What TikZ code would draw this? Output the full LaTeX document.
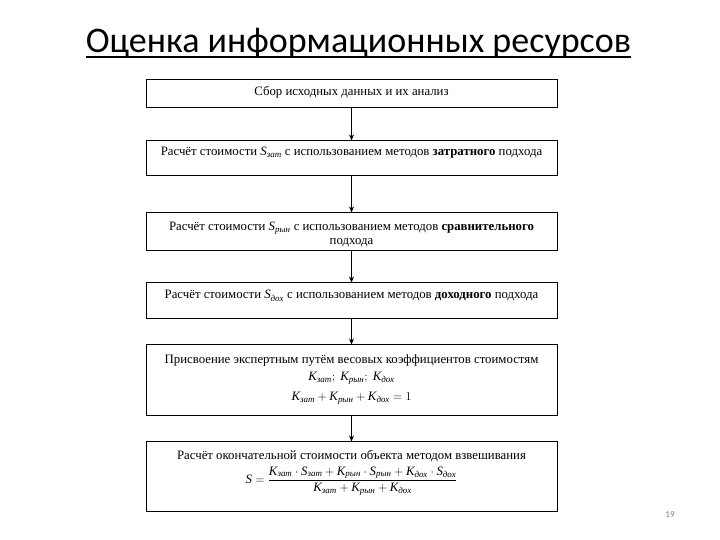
\documentclass[tikz,border=0pt]{standalone}
\usepackage{fontspec}
\usepackage{amsmath}
\setmainfont{Liberation Serif}
\newfontfamily\titlefont{Carlito}
\usetikzlibrary{arrows.meta}
\newcommand\ks[2]{\text{\itshape #1}_{\text{\itshape #2}}}
\begin{document}
\begin{tikzpicture}[x=1pt,y=1pt,
 box/.style={draw=black,line width=1pt,minimum width=411pt,inner sep=0pt},
 txt/.style={font=\fontsize{12.8}{14}\selectfont,align=center,inner sep=0pt},
 arr/.style={-{Stealth[length=6pt,width=5pt]},line width=1.1pt}]
\useasboundingbox (0,0) rectangle (720,540);
\node[anchor=base,inner sep=0pt,font=\titlefont\fontsize{36}{40}\selectfont] (title) at (358.5,487) {Оценка информационных ресурсов};
\draw[line width=1.4pt] ([yshift=-4pt]title.base west) -- ([yshift=-4pt]title.base east);
\node[box,minimum height=28pt] (b1) at (351.5,446) {};
\node[box,minimum height=35pt] (b2) at (351.5,381.5) {};
\node[box,minimum height=38pt] (b3) at (351.5,308) {};
\node[box,minimum height=36pt] (b4) at (351.5,239) {};
\node[box,minimum height=71pt] (b5) at (351.5,159.5) {};
\node[box,minimum height=70pt] (b6) at (351.5,63) {};
\node[txt] (t1) at (351.5,448) {Сбор исходных данных и их анализ};
\node[txt] (t2) at (351.5,387) {Расчёт стоимости $\ks{S}{зат}$ с использованием методов \textbf{затратного} подхода};
\node[txt] (t3) at (351.5,305) {Расчёт стоимости $\ks{S}{рын}$ с использованием методов \textbf{сравнительного}\\подхода};
\node[txt] (t4) at (351.5,244) {Расчёт стоимости $\ks{S}{дох}$ с использованием методов \textbf{доходного} подхода};
\node[txt] (t5a) at (351.5,180) {Присвоение экспертным путём весовых коэффициентов стоимостям};
\node[txt] (t5b) at (351.5,162) {$\ks{K}{зат};\ \ks{K}{рын};\ \ks{K}{дох}$};
\node[txt] (t5c) at (351.5,142) {$\ks{K}{зат}+\ks{K}{рын}+\ks{K}{дох}=1$};
\node[txt] (t6a) at (351.5,84) {Расчёт окончательной стоимости объекта методом взвешивания};
\node[txt] (t6b) at (351.5,59) {$\text{\itshape S}=\dfrac{\ks{K}{зат}\cdot\ks{S}{зат}+\ks{K}{рын}\cdot\ks{S}{рын}+\ks{K}{дох}\cdot\ks{S}{дох}}{\ks{K}{зат}+\ks{K}{рын}+\ks{K}{дох}}$};
\draw[arr] (b1) -- (b2);
\draw[arr] (b2) -- (b3);
\draw[arr] (b3) -- (b4);
\draw[arr] (b4) -- (b5);
\draw[arr] (b5) -- (b6);
\node[anchor=base,inner sep=0pt,font=\titlefont\fontsize{9}{10}\selectfont,text=gray] (pg) at (670,22) {19};
\end{tikzpicture}
\end{document}
